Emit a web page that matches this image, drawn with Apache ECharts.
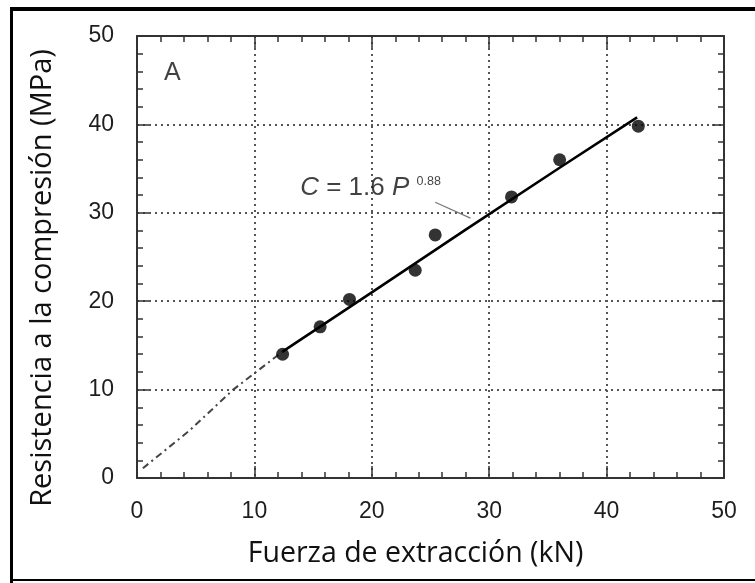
<!DOCTYPE html>
<html>
<head>
<meta charset="utf-8">
<script src="https://cdn.jsdelivr.net/npm/echarts@6/dist/echarts.min.js"></script>
<style>
  html, body { margin: 0; padding: 0; background: #fff; }
  #chart { width: 755px; height: 583px; }
</style>
</head>
<body>
<div id="chart"></div>
<script>
// measured points: pull-out force vs compressive strength
const forceKN = [12.4, 15.6, 18.1, 23.7, 25.4, 31.9, 36.0, 42.7];
const strengthMPa = [14.0, 17.1, 20.2, 23.5, 27.5, 31.8, 36.0, 39.8];

// fitted curve (solid part inside data range)
const fitSolidX = [12.4, 20, 28, 36, 42.6];
const fitSolidY = [14.3, 21.0, 28.1, 35.1, 40.8];
// extrapolated part towards the origin
const fitDashX = [0.5, 4.5, 8.2, 12.4];
const fitDashY = [1.1, 5.4, 10.0, 14.3];
// leader from the equation label to the curve
const leaderX = [25.4, 28.4];
const leaderY = [31.2, 29.4];

const axisTicks = [0, 10, 20, 30, 40, 50];

const tickFont = 'Liberation Sans, Arial, sans-serif';
const nameFont = 'Open Sans, Noto Sans, sans-serif';

const zip = (xs, ys) => xs.map((x, i) => [x, ys[i]]);

const chart = echarts.init(document.getElementById('chart'));

function frameAxis(position, isX, withLabels) {
  return {
    type: 'value',
    position: position,
    min: axisTicks[0],
    max: axisTicks[axisTicks.length - 1],
    interval: axisTicks[1] - axisTicks[0],
    axisLine: { show: true, onZero: false, lineStyle: { color: '#333', width: 2 } },
    axisTick: { show: true, inside: true, length: 12, lineStyle: { color: '#333', width: 1.5 } },
    minorTick: { show: true, splitNumber: 5, length: 6, lineStyle: { color: '#333', width: 1.5 } },
    axisLabel: {
      show: withLabels,
      color: '#1e1e1e',
      fontFamily: tickFont,
      fontSize: 23,
      margin: isX ? 22 : 23
    },
    splitLine: {
      show: withLabels,
      lineStyle: { color: '#555', width: 2, type: [2, 4] }
    }
  };
}

const xBottom = frameAxis('bottom', true, true);
xBottom.name = 'Fuerza de extracción (kN)';
xBottom.nameLocation = 'middle';
xBottom.nameGap = 61;
xBottom.nameTextStyle = { fontFamily: nameFont, fontSize: 28.5, color: '#111', padding: [0, 30, 0, 0] };

const yLeft = frameAxis('left', false, true);
yLeft.name = 'Resistencia a la compresión (MPa)';
yLeft.nameLocation = 'middle';
yLeft.nameGap = 80;
yLeft.nameTextStyle = { fontFamily: nameFont, fontSize: 29, color: '#111', padding: [0, 42, 0, 0] };

chart.setOption({
  backgroundColor: '#fff',
  animation: false,
  grid: { left: 137, right: 31, top: 36, bottom: 105 },
  xAxis: [xBottom, frameAxis('top', true, false)],
  yAxis: [yLeft, frameAxis('right', false, false)],
  graphic: [
    { type: 'line', shape: { x1: 11.5, y1: 7, x2: 11.5, y2: 583 }, style: { stroke: '#000', lineWidth: 3 } },
    { type: 'line', shape: { x1: 10, y1: 9, x2: 755, y2: 9 }, style: { stroke: '#000', lineWidth: 4 } },
    { type: 'line', shape: { x1: 10, y1: 580, x2: 755, y2: 580 }, style: { stroke: '#000', lineWidth: 2 } }
  ],
  series: [
    {
      type: 'line',
      data: zip(fitDashX, fitDashY),
      symbol: 'none',
      lineStyle: { color: '#444', width: 2, type: [7, 4, 2, 4] },
      z: 3
    },
    {
      type: 'line',
      data: zip(fitSolidX, fitSolidY),
      symbol: 'none',
      lineStyle: { color: '#000', width: 2.6 },
      z: 4
    },
    {
      type: 'line',
      data: zip(leaderX, leaderY),
      symbol: 'none',
      lineStyle: { color: '#777', width: 1.2 },
      z: 3
    },
    {
      type: 'scatter',
      data: zip(forceKN, strengthMPa),
      symbol: 'circle',
      symbolSize: 13,
      itemStyle: { color: '#000' },
      z: 5
    },
    {
      type: 'scatter',
      symbolSize: 0,
      silent: true,
      data: [
        {
          value: [13.9, 32.8],
          label: {
            show: true,
            position: [0, 0],
            align: 'left',
            verticalAlign: 'middle',
            formatter: '{i|C} = 1.6 {i|P} {s|0.88}',
            fontFamily: tickFont,
            fontSize: 26,
            color: '#111',
            rich: {
              i: { fontStyle: 'italic', fontFamily: tickFont, fontSize: 26, color: '#111' },
              s: { fontFamily: tickFont, fontSize: 12.5, color: '#111', padding: [0, 0, 14, 0] }
            }
          }
        },
        {
          value: [3.0, 45.8],
          label: {
            show: true,
            position: [0, 0],
            align: 'center',
            verticalAlign: 'middle',
            formatter: 'A',
            fontFamily: tickFont,
            fontSize: 25,
            color: '#111'
          }
        }
      ],
      z: 6
    }
  ]
});
</script>
</body>
</html>
